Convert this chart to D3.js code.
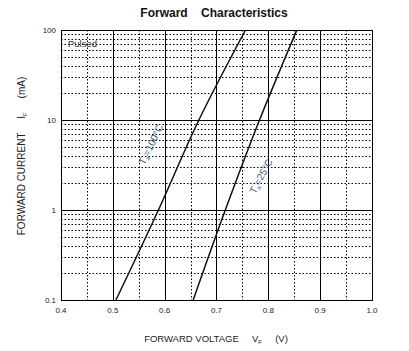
<!DOCTYPE html>
<html><head><meta charset="utf-8">
<script src="https://cdn.jsdelivr.net/npm/d3@7"></script>
<style>body{margin:0;background:#fff;} text{font-family:"Liberation Sans",Arial,sans-serif;}</style>
</head><body><svg id="c" width="409" height="351"></svg>
<script>
const currents = [0.1, 1, 10, 100];
const v100 = [0.506, 0.588, 0.666, 0.756];
const v25 = [0.655, 0.717, 0.783, 0.855];
const xTicks = [0.4, 0.5, 0.6, 0.7, 0.8, 0.9, 1.0];
const xTickLabels = ["0.4","0.5","0.6","0.7","0.8","0.9","1.0"];
const yTicks = [0.1, 1, 10, 100];
const yTickLabels = ["0.1","1","10","100"];

const svg = d3.select("#c");
const L=61, R=372, T=30, B=300;
const x = d3.scaleLinear().domain([0.4,1.0]).range([L,R]);
const y = d3.scaleLog().domain([0.1,100]).range([B,T]);

const g = svg.append("g");
d3.range(0.45,1.0,0.1).forEach(v=>{
  g.append("line").attr("x1",Math.round(x(v))+0.5).attr("x2",Math.round(x(v))+0.5).attr("y1",T).attr("y2",B)
   .attr("stroke","#000").attr("stroke-width",1).attr("stroke-dasharray","1.5,2");
});
[0.1,1,10].forEach(d=>{ for(let k=2;k<=9;k++){ const v=d*k;
  g.append("line").attr("x1",L).attr("x2",R).attr("y1",Math.round(y(v))+0.5).attr("y2",Math.round(y(v))+0.5)
   .attr("stroke","#000").attr("stroke-width",1).attr("stroke-dasharray","1.5,2"); }});
xTicks.forEach(v=>{
  g.append("line").attr("x1",Math.round(x(v))+0.5).attr("x2",Math.round(x(v))+0.5).attr("y1",T).attr("y2",B)
   .attr("stroke","#000").attr("stroke-width",1);
});
yTicks.forEach(v=>{
  g.append("line").attr("x1",L).attr("x2",R).attr("y1",Math.round(y(v))+0.5).attr("y2",Math.round(y(v))+0.5)
   .attr("stroke","#000").attr("stroke-width",1);
});
g.append("rect").attr("x",L+0.5).attr("y",T+0.5).attr("width",R-L).attr("height",B-T)
 .attr("fill","none").attr("stroke","#000").attr("stroke-width",1);

xTicks.forEach((v,i)=>{
  svg.append("text").attr("x",x(v)).attr("y",B+13).attr("text-anchor","middle")
   .attr("font-size",8).attr("fill","#222").text(xTickLabels[i]);
});
yTicks.forEach((v,i)=>{
  svg.append("text").attr("x",L-5).attr("y",y(v)+3).attr("text-anchor","end")
   .attr("font-size",8).attr("fill","#222").text(yTickLabels[i]);
});

const line = d3.line().x(d=>x(d[0])).y(d=>y(d[1])).curve(d3.curveMonotoneY);
[v100, v25].forEach(vs=>{
  svg.append("path").datum(vs.map((v,i)=>[v,currents[i]])).attr("d",line)
   .attr("fill","none").attr("stroke","#111").attr("stroke-width",1.5);
});

function tlabel(cx,cy,ang,temp){
  const t = svg.append("text").attr("transform",`translate(${cx},${cy}) rotate(${ang})`)
   .attr("text-anchor","middle").attr("font-size",10).attr("fill","#3a5a86");
  t.append("tspan").text("T");
  t.append("tspan").attr("font-size",6).attr("dy",2).text("a");
  t.append("tspan").attr("dy",-2).text("=" + temp + "°C");
}
tlabel(154,146,-64,"100");
tlabel(264,178,-62,"25");

svg.append("text").attr("x",68).attr("y",47).attr("font-size",9.5).attr("fill","#333").text("Pulsed");

svg.append("text").attr("x",214).attr("y",17).attr("text-anchor","middle")
 .attr("font-size",12).attr("font-weight","bold").attr("fill","#111")
 .attr("xml:space","preserve").text("Forward    Characteristics");

const xt = svg.append("text").attr("x",216).attr("y",342).attr("text-anchor","middle")
 .attr("font-size",9.5).attr("fill","#222").attr("xml:space","preserve");
xt.append("tspan").text("FORWARD VOLTAGE     V");
xt.append("tspan").attr("font-size",6).attr("dy",2).text("F");
xt.append("tspan").attr("dy",-2).text("     (V)");

const yt = svg.append("text").attr("transform","translate(25,156) rotate(-90)").attr("text-anchor","middle")
 .attr("font-size",10).attr("fill","#222").attr("xml:space","preserve");
yt.append("tspan").text("FORWARD CURRENT     I");
yt.append("tspan").attr("font-size",6).attr("dy",2).text("F");
yt.append("tspan").attr("dy",-2).text("     (mA)");
</script></body></html>
